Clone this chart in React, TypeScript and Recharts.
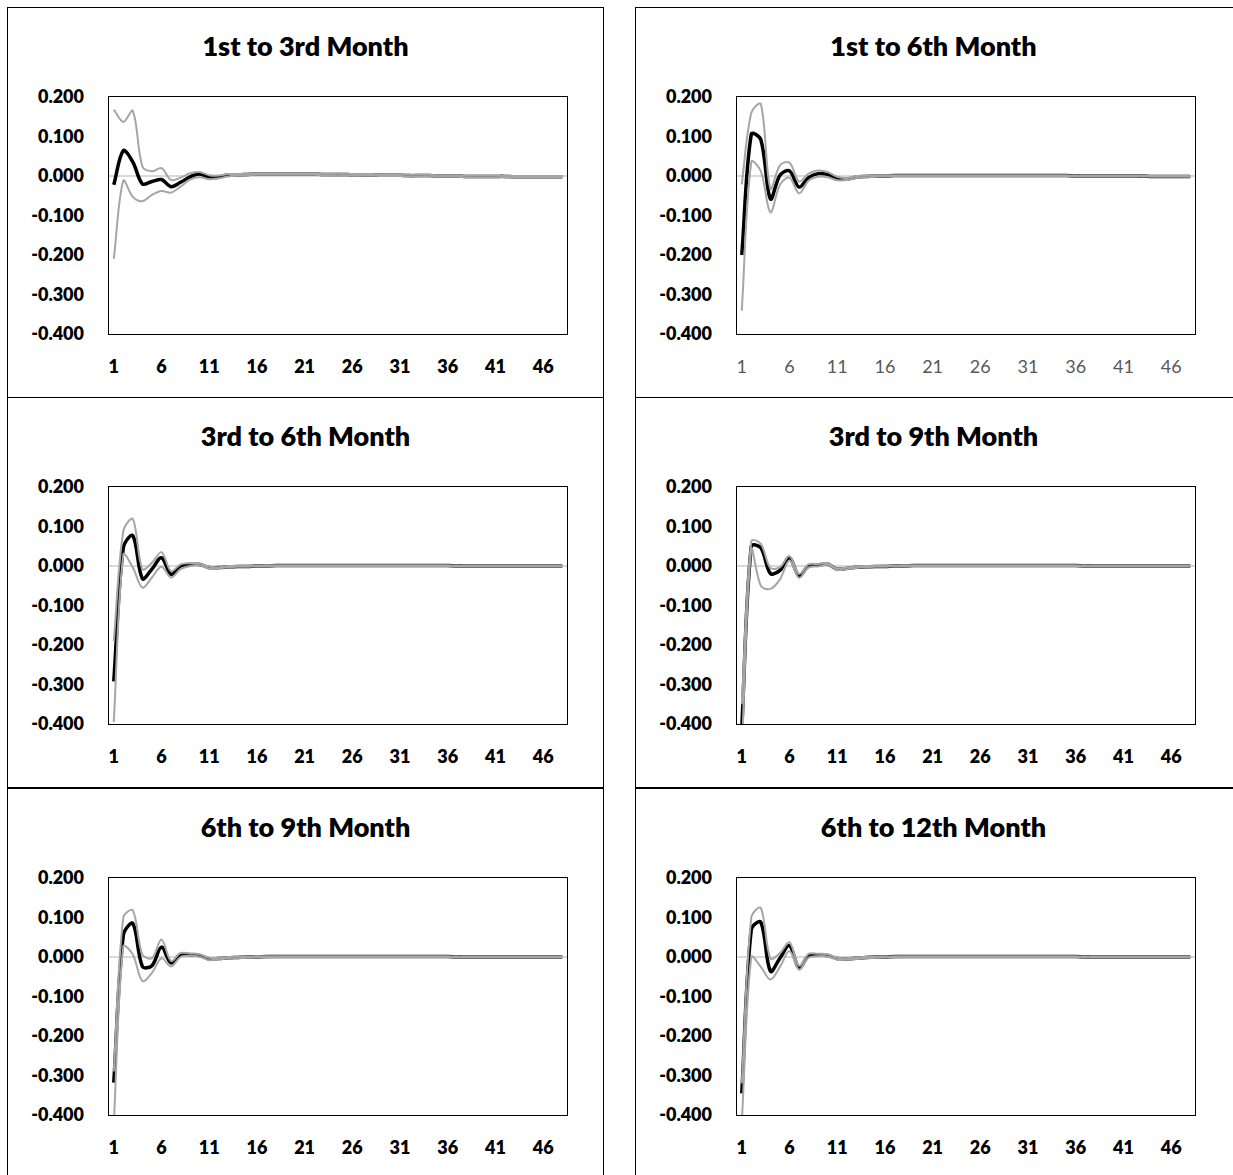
import { LineChart, Line, XAxis, YAxis, CartesianGrid } from 'recharts';

// Impulse responses over 48 periods: point estimate plus upper/lower bands.
const periods = [
  1, 2, 3, 4, 5, 6, 7, 8, 9, 10, 11, 12, 13, 14, 15, 16, 17, 18, 19, 20, 21, 22, 23, 24,
  25, 26, 27, 28, 29, 30, 31, 32, 33, 34, 35, 36, 37, 38, 39, 40, 41, 42, 43, 44, 45, 46, 47, 48,
];
const yTicks = [-0.4, -0.3, -0.2, -0.1, 0, 0.1, 0.2];

// 1st to 3rd Month
const est1to3 = [
  -0.022, 0.064, 0.035, -0.02, -0.014, -0.009, -0.027, -0.016, -0.002, 0.005, -0.003, -0.003,
  0.003, 0.003, 0.004, 0.005, 0.005, 0.005, 0.005, 0.005, 0.005, 0.005, 0.004, 0.004,
  0.004, 0.003, 0.003, 0.003, 0.002, 0.002, 0.002, 0.001, 0.001, 0.001, 0.0, 0.0,
  0.0, -0.001, -0.001, -0.001, -0.001, -0.001, -0.002, -0.002, -0.002, -0.002, -0.002, -0.002,
];
const upper1to3 = [
  0.168, 0.137, 0.165, 0.024, 0.012, 0.02, -0.01, -0.004, 0.007, 0.01, 0.002, 0.001,
  0.005, 0.005, 0.006, 0.007, 0.007, 0.007, 0.007, 0.007, 0.007, 0.007, 0.006, 0.006,
  0.006, 0.005, 0.005, 0.005, 0.004, 0.004, 0.004, 0.003, 0.003, 0.003, 0.002, 0.002,
  0.002, 0.001, 0.001, 0.001, 0.001, 0.0, 0.0, 0.0, 0.0, 0.0, 0.0, 0.0,
];
const lower1to3 = [
  -0.21, -0.012, -0.053, -0.064, -0.048, -0.038, -0.042, -0.027, -0.009, -0.003, -0.008, -0.006,
  -0.001, 0.001, 0.002, 0.003, 0.003, 0.003, 0.003, 0.003, 0.003, 0.003, 0.002, 0.002,
  0.002, 0.001, 0.001, 0.001, 0.0, 0.0, 0.0, -0.001, -0.001, -0.001, -0.002, -0.002,
  -0.002, -0.003, -0.003, -0.003, -0.003, -0.003, -0.004, -0.004, -0.004, -0.004, -0.004, -0.004,
];

// 1st to 6th Month
const est1to6 = [
  -0.2, 0.106, 0.092, -0.058, 0.002, 0.013, -0.028, -0.004, 0.006, 0.004, -0.006, -0.008,
  -0.003, -0.001, 0.0, 0.0, 0.001, 0.001, 0.001, 0.001, 0.001, 0.001, 0.001, 0.001,
  0.001, 0.001, 0.001, 0.001, 0.001, 0.001, 0.001, 0.001, 0.001, 0.001, 0.001, 0.0,
  0.0, 0.0, 0.0, 0.0, 0.0, 0.0, 0.0, -0.001, -0.001, -0.001, -0.001, -0.001,
];
const upper1to6 = [
  -0.021, 0.16, 0.182, -0.032, 0.027, 0.034, -0.014, 0.006, 0.014, 0.01, -0.002, -0.005,
  0.0, 0.001, 0.002, 0.002, 0.002, 0.002, 0.002, 0.002, 0.002, 0.002, 0.002, 0.002,
  0.002, 0.002, 0.002, 0.002, 0.002, 0.002, 0.002, 0.002, 0.002, 0.002, 0.002, 0.001,
  0.001, 0.001, 0.001, 0.001, 0.001, 0.001, 0.001, 0.0, 0.0, 0.0, 0.0, 0.0,
];
const lower1to6 = [
  -0.341, 0.036, 0.012, -0.092, -0.022, -0.004, -0.044, -0.012, -0.002, -0.003, -0.011, -0.01,
  -0.005, -0.003, -0.002, -0.001, 0.0, 0.0, 0.0, 0.0, 0.0, 0.0, 0.0, 0.0,
  0.0, 0.0, 0.0, 0.0, 0.0, 0.0, 0.0, 0.0, 0.0, 0.0, 0.0, -0.001,
  -0.001, -0.001, -0.001, -0.001, -0.001, -0.001, -0.001, -0.002, -0.002, -0.002, -0.002, -0.002,
];

// 3rd to 6th Month
const est3to6 = [
  -0.292, 0.046, 0.077, -0.032, -0.008, 0.021, -0.021, 0.0, 0.004, 0.004, -0.004, -0.004,
  -0.002, -0.001, -0.001, 0.0, 0.0, 0.001, 0.001, 0.001, 0.001, 0.001, 0.001, 0.001,
  0.001, 0.001, 0.001, 0.001, 0.001, 0.001, 0.001, 0.001, 0.001, 0.001, 0.001, 0.001,
  0.0, 0.0, 0.0, 0.0, 0.0, 0.0, 0.0, 0.0, 0.0, 0.0, 0.0, 0.0,
];
const upper3to6 = [
  -0.19, 0.088, 0.119, -0.008, 0.008, 0.035, -0.013, 0.004, 0.007, 0.007, -0.002, -0.003,
  0.0, 0.0, 0.001, 0.001, 0.002, 0.002, 0.002, 0.002, 0.002, 0.002, 0.002, 0.002,
  0.002, 0.002, 0.002, 0.002, 0.002, 0.002, 0.002, 0.002, 0.002, 0.002, 0.002, 0.002,
  0.001, 0.001, 0.001, 0.001, 0.001, 0.001, 0.001, 0.001, 0.001, 0.001, 0.001, 0.001,
];
const lower3to6 = [
  -0.395, 0.029, -0.004, -0.055, -0.029, -0.002, -0.029, -0.008, 0.0, 0.002, -0.007, -0.006,
  -0.003, -0.002, -0.002, -0.001, -0.001, 0.0, 0.0, 0.0, 0.0, 0.0, 0.0, 0.0,
  0.0, 0.0, 0.0, 0.0, 0.0, 0.0, 0.0, 0.0, 0.0, 0.0, 0.0, 0.0,
  -0.001, -0.001, -0.001, -0.001, -0.001, -0.001, -0.001, -0.001, -0.001, -0.001, -0.001, -0.001,
];

// 3rd to 9th Month
const est3to9 = [
  -0.41, 0.05, 0.046, -0.019, -0.011, 0.021, -0.025, 0.0, 0.002, 0.005, -0.008, -0.006,
  -0.003, -0.002, -0.001, -0.001, 0.0, 0.0, 0.001, 0.001, 0.001, 0.001, 0.001, 0.001,
  0.001, 0.001, 0.001, 0.001, 0.001, 0.001, 0.001, 0.001, 0.001, 0.001, 0.001, 0.001,
  0.0, 0.0, 0.0, 0.0, 0.0, 0.0, 0.0, 0.0, 0.0, 0.0, 0.0, 0.0,
];
const upper3to9 = [
  -0.35, 0.063, 0.056, -0.005, -0.003, 0.025, -0.02, 0.004, 0.005, 0.007, -0.006, -0.004,
  -0.001, 0.0, 0.0, 0.001, 0.001, 0.002, 0.002, 0.002, 0.002, 0.002, 0.002, 0.002,
  0.002, 0.002, 0.002, 0.002, 0.002, 0.002, 0.002, 0.002, 0.002, 0.002, 0.002, 0.002,
  0.001, 0.001, 0.001, 0.001, 0.001, 0.001, 0.001, 0.001, 0.001, 0.001, 0.001, 0.001,
];
const lower3to9 = [
  -0.47, 0.042, -0.05, -0.058, -0.034, 0.014, -0.03, -0.004, -0.001, 0.003, -0.01, -0.008,
  -0.005, -0.003, -0.002, -0.002, -0.001, -0.001, 0.0, 0.0, 0.0, 0.0, 0.0, 0.0,
  0.0, 0.0, 0.0, 0.0, 0.0, 0.0, 0.0, 0.0, 0.0, 0.0, 0.0, 0.0,
  -0.001, -0.001, -0.001, -0.001, -0.001, -0.001, -0.001, -0.001, -0.001, -0.001, -0.001, -0.001,
];

// 6th to 9th Month
const est6to9 = [
  -0.318, 0.055, 0.085, -0.024, -0.022, 0.025, -0.015, 0.006, 0.006, 0.004, -0.005, -0.004,
  -0.002, -0.001, 0.0, 0.0, 0.001, 0.001, 0.001, 0.001, 0.001, 0.001, 0.001, 0.001,
  0.001, 0.001, 0.001, 0.001, 0.001, 0.001, 0.001, 0.001, 0.001, 0.001, 0.001, 0.001,
  0.0, 0.0, 0.0, 0.0, 0.0, 0.0, 0.0, 0.0, 0.0, 0.0, 0.0, 0.0,
];
const upper6to9 = [
  -0.29, 0.1, 0.118, 0.006, -0.003, 0.044, -0.01, 0.01, 0.009, 0.007, -0.002, -0.002,
  0.0, 0.001, 0.001, 0.002, 0.002, 0.002, 0.002, 0.002, 0.002, 0.002, 0.002, 0.002,
  0.002, 0.002, 0.002, 0.002, 0.002, 0.002, 0.002, 0.002, 0.002, 0.002, 0.002, 0.002,
  0.001, 0.001, 0.001, 0.001, 0.001, 0.001, 0.001, 0.001, 0.001, 0.001, 0.001, 0.001,
];
const lower6to9 = [
  -0.42, 0.027, 0.006, -0.061, -0.04, -0.003, -0.024, 0.0, 0.003, 0.001, -0.008, -0.006,
  -0.004, -0.003, -0.002, -0.001, -0.001, 0.0, 0.0, 0.0, 0.0, 0.0, 0.0, 0.0,
  0.0, 0.0, 0.0, 0.0, 0.0, 0.0, 0.0, 0.0, 0.0, 0.0, 0.0, 0.0,
  -0.001, -0.001, -0.001, -0.001, -0.001, -0.001, -0.001, -0.001, -0.001, -0.001, -0.001, -0.001,
];

// 6th to 12th Month
const est6to12 = [
  -0.345, 0.07, 0.088, -0.036, -0.003, 0.029, -0.028, 0.003, 0.005, 0.004, -0.004, -0.005,
  -0.003, -0.001, 0.0, 0.0, 0.001, 0.001, 0.001, 0.001, 0.001, 0.001, 0.001, 0.001,
  0.001, 0.001, 0.001, 0.001, 0.001, 0.001, 0.001, 0.001, 0.001, 0.001, 0.001, 0.001,
  0.0, 0.0, 0.0, 0.0, 0.0, 0.0, 0.0, 0.0, 0.0, 0.0, 0.0, 0.0,
];
const upper6to12 = [
  -0.32, 0.1, 0.124, -0.004, 0.01, 0.037, -0.022, 0.008, 0.008, 0.007, -0.002, -0.003,
  -0.001, 0.0, 0.001, 0.001, 0.002, 0.002, 0.002, 0.002, 0.002, 0.002, 0.002, 0.002,
  0.002, 0.002, 0.002, 0.002, 0.002, 0.002, 0.002, 0.002, 0.002, 0.002, 0.002, 0.002,
  0.001, 0.001, 0.001, 0.001, 0.001, 0.001, 0.001, 0.001, 0.001, 0.001, 0.001, 0.001,
];
const lower6to12 = [
  -0.42, 0.0, -0.025, -0.057, -0.025, 0.015, -0.032, -0.002, 0.002, 0.001, -0.007, -0.007,
  -0.005, -0.003, -0.002, -0.001, -0.001, 0.0, 0.0, 0.0, 0.0, 0.0, 0.0, 0.0,
  0.0, 0.0, 0.0, 0.0, 0.0, 0.0, 0.0, 0.0, 0.0, 0.0, 0.0, 0.0,
  -0.001, -0.001, -0.001, -0.001, -0.001, -0.001, -0.001, -0.001, -0.001, -0.001, -0.001, -0.001,
];

const FONT = 'Lato, "Open Sans", sans-serif';
const PANEL_W = 597;
const PANEL_H = 391;
// plot area inside each panel
const PLOT_LEFT = 102;
const PLOT_TOP = 90;
const PLOT_W = 458;
const PLOT_H = 237;
const X_AXIS_H = 40;
const BAND = PLOT_W / periods.length;

type Pt = [number, number];

// Spreadsheet-style smoothed line: cubic Bezier through every point, tangents
// weighted by neighbouring segment lengths so steep jumps don't overshoot much.
function smoothCurve(context: any) {
  let pts: Pt[] = [];
  const controls = (i: number): [Pt, Pt] => {
    const n = pts.length;
    const p = pts[i];
    const a = pts[Math.max(0, i - 1)];
    const b = pts[Math.min(n - 1, i + 1)];
    const dx = b[0] - a[0];
    const dy = b[1] - a[1];
    const l1 = Math.hypot(p[0] - a[0], p[1] - a[1]);
    const l2 = Math.hypot(b[0] - p[0], b[1] - p[1]);
    const s = l1 + l2 || 1;
    return [
      [p[0] - (dx * l1) / s / 3, p[1] - (dy * l1) / s / 3],
      [p[0] + (dx * l2) / s / 3, p[1] + (dy * l2) / s / 3],
    ];
  };
  return {
    areaStart() {},
    areaEnd() {},
    lineStart() {
      pts = [];
    },
    point(x: number, y: number) {
      pts.push([+x, +y]);
    },
    lineEnd() {
      const n = pts.length;
      if (!n) return;
      context.moveTo(pts[0][0], pts[0][1]);
      for (let i = 0; i < n - 1; i++) {
        const c1 = controls(i)[1];
        const c2 = controls(i + 1)[0];
        context.bezierCurveTo(c1[0], c1[1], c2[0], c2[1], pts[i + 1][0], pts[i + 1][1]);
      }
    },
  };
}

interface PanelProps {
  title: string;
  est: number[];
  upper: number[];
  lower: number[];
  left: number;
  top: number;
  width?: number;
  plainXTicks?: boolean;
}

function IrfPanel({ title, est, upper, lower, left, top, width = PANEL_W, plainXTicks }: PanelProps) {
  const data = periods.map((p, i) => ({ period: p, est: est[i], upper: upper[i], lower: lower[i] }));
  const xTick = plainXTicks
    ? { fontSize: 18, fill: '#595959', fontFamily: FONT }
    : { fontSize: 18, fill: '#000', fontWeight: 800, fontFamily: FONT };

  return (
    <div style={{ position: 'absolute', left, top, width, height: PANEL_H }}>
      <div
        style={{
          position: 'absolute',
          inset: 0,
          border: '1.5px solid #000',
          boxSizing: 'border-box',
        }}
      />
      <div
        style={{
          position: 'absolute',
          left: 0,
          top: 23,
          width: PANEL_W,
          lineHeight: '32px',
          textAlign: 'center',
          fontFamily: FONT,
          fontWeight: 800,
          fontSize: 27,
          color: '#000',
        }}
      >
        {title}
      </div>
      <div style={{ position: 'absolute', left: 0, top: 0 }}>
        <LineChart
          width={PANEL_W}
          height={PANEL_H - 1}
          data={data}
          margin={{
            top: PLOT_TOP,
            right: PANEL_W - PLOT_LEFT - PLOT_W,
            left: 0,
            bottom: PANEL_H - 1 - PLOT_TOP - PLOT_H - X_AXIS_H,
          }}
        >
          <CartesianGrid
            horizontal
            vertical={false}
            horizontalValues={[0]}
            stroke="#d9d9d9"
            strokeWidth={2}
          />
          <XAxis
            dataKey="period"
            interval={4}
            height={X_AXIS_H}
            padding={{ left: BAND / 2, right: BAND / 2 }}
            axisLine={false}
            tickLine={false}
            tickSize={0}
            tickMargin={26}
            tick={xTick}
          />
          <YAxis
            type="number"
            width={PLOT_LEFT}
            domain={[-0.4, 0.2]}
            ticks={yTicks}
            allowDataOverflow
            axisLine={false}
            tickLine={false}
            tickSize={0}
            tickMargin={25}
            tick={{ fontSize: 18, fill: '#000', fontWeight: 800, fontFamily: FONT }}
            tickFormatter={(v: number) => v.toFixed(3)}
          />
          <Line
            type={smoothCurve as any}
            dataKey="est"
            stroke="#000"
            strokeWidth={3.5}
            dot={false}
            isAnimationActive={false}
          />
          <Line
            type={smoothCurve as any}
            dataKey="upper"
            stroke="#a6a6a6"
            strokeWidth={2}
            dot={false}
            isAnimationActive={false}
          />
          <Line
            type={smoothCurve as any}
            dataKey="lower"
            stroke="#a6a6a6"
            strokeWidth={2}
            dot={false}
            isAnimationActive={false}
          />
        </LineChart>
      </div>
      {/* plot area frame */}
      <div
        style={{
          position: 'absolute',
          left: PLOT_LEFT - 0.75,
          top: PLOT_TOP - 0.75,
          width: PLOT_W + 1.5,
          height: PLOT_H + 1.5,
          border: '1.5px solid #000',
          boxSizing: 'border-box',
          pointerEvents: 'none',
        }}
      />
    </div>
  );
}

export default function App() {
  return (
    <div
      style={{
        position: 'absolute',
        left: 0,
        top: 0,
        width: 1233,
        height: 1175,
        overflow: 'hidden',
        background: '#fff',
      }}
    >
      <IrfPanel title="1st to 3rd Month" est={est1to3} upper={upper1to3} lower={lower1to3} left={7} top={7} />
      <IrfPanel
        title="1st to 6th Month"
        est={est1to6}
        upper={upper1to6}
        lower={lower1to6}
        left={635}
        top={7}
        width={620}
        plainXTicks
      />
      <IrfPanel title="3rd to 6th Month" est={est3to6} upper={upper3to6} lower={lower3to6} left={7} top={397} />
      <IrfPanel
        title="3rd to 9th Month"
        est={est3to9}
        upper={upper3to9}
        lower={lower3to9}
        left={635}
        top={397}
        width={620}
      />
      <IrfPanel title="6th to 9th Month" est={est6to9} upper={upper6to9} lower={lower6to9} left={7} top={788} />
      <IrfPanel
        title="6th to 12th Month"
        est={est6to12}
        upper={upper6to12}
        lower={lower6to12}
        left={635}
        top={788}
        width={620}
      />
    </div>
  );
}
